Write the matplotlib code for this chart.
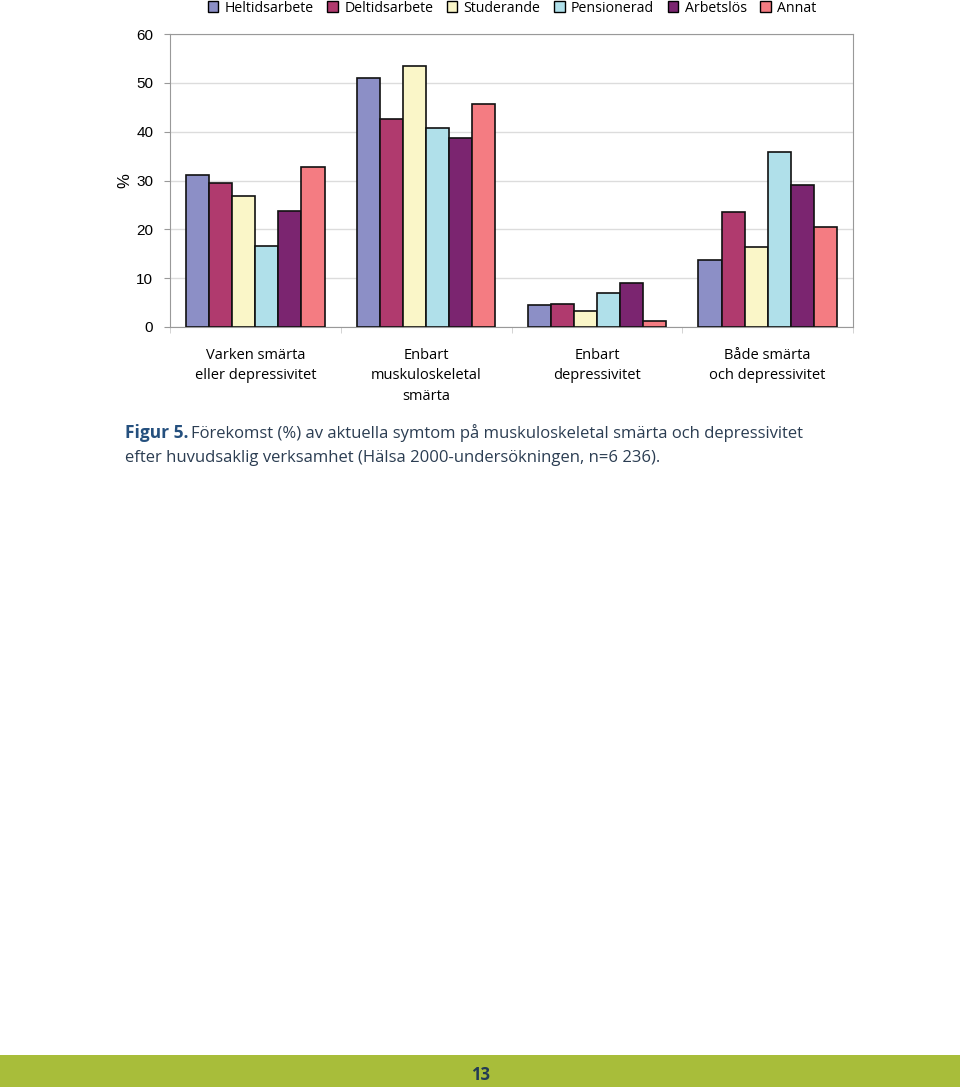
import matplotlib.pyplot as plt
import matplotlib.patches as mpatches
import numpy as np

# data
kategorier = ['Varken smärta\neller depressivitet', 'Enbart\nmuskuloskeletal\nsmärta',
              'Enbart\ndepressivitet', 'Både smärta\noch depressivitet']
grupper = ['Heltidsarbete', 'Deltidsarbete', 'Studerande', 'Pensionerad', 'Arbetslös', 'Annat']
heltid = [31.1, 51.0, 4.5, 13.7]
deltid = [29.5, 42.6, 4.7, 23.6]
studerande = [26.8, 53.5, 3.3, 16.4]
pension = [16.6, 40.8, 7.0, 35.9]
arbetslos = [23.8, 38.7, 9.0, 29.1]
annat = [32.8, 45.7, 1.2, 20.5]
serier = [heltid, deltid, studerande, pension, arbetslos, annat]
farger = ['#8c8fc6', '#b03a6e', '#faf6c8', '#b0e0ea', '#7b2570', '#f47c82']
yticks = [0, 10, 20, 30, 40, 50, 60]

txtfont = ['Open Sans', 'DejaVu Sans']

fig = plt.figure(figsize=(9.6, 10.87), dpi=100)
ax = fig.add_axes([170/960, 1 - 327/1087, 683/960, 293/1087])

x = np.arange(len(kategorier))
w = 0.135
for i, (s, c) in enumerate(zip(serier, farger)):
    ax.bar(x + (i - 2.5) * w, s, width=w, color=c, edgecolor='#111111', linewidth=1.2,
           label=grupper[i], zorder=3)

ax.set_xlim(-0.5, 3.5)
ax.set_ylim(0, 60)
ax.set_yticks(yticks)
ax.set_yticklabels([str(t) for t in yticks], fontsize=11, family='Liberation Sans')
ax.yaxis.grid(True, color='#dcdcdc', linewidth=1, zorder=0)
ax.tick_params(axis='y', length=4, color='#999999', pad=8)
for sp in ax.spines.values():
    sp.set_color('#999999')
ax.set_xticks(x)
ax.set_xticklabels(kategorier, fontsize=10.5, family=txtfont, linespacing=1.5)
ax.tick_params(axis='x', length=0, pad=15)
ax.set_xticks([-0.5, 0.5, 1.5, 2.5, 3.5], minor=True)
ax.tick_params(axis='x', which='minor', length=4, color='#cccccc')
ax.set_ylabel('%', fontsize=12, family='Liberation Sans', labelpad=3)

# legend along the top
handles = [mpatches.Patch(facecolor=c, edgecolor='black', linewidth=1) for c in farger]
fig.legend(handles, grupper, loc='center', bbox_to_anchor=(512/960, 1 - 8/1087), ncol=6,
           frameon=False, prop={'family': txtfont, 'size': 10.2}, handlelength=0.75,
           handleheight=0.75, handletextpad=0.45, columnspacing=0.95)

# caption
fig.text(125/960, 1 - 433/1087, 'Figur 5.', fontsize=12.5, fontweight='bold',
         color='#25507e', family=txtfont, va='center')
fig.text(191/960, 1 - 433/1087, 'Förekomst (%) av aktuella symtom på muskuloskeletal smärta och depressivitet',
         fontsize=12, color='#2b3d52', family=txtfont, va='center')
fig.text(125/960, 1 - 458/1087, 'efter huvudsaklig verksamhet (Hälsa 2000-undersökningen, n=6 236).',
         fontsize=12, color='#2b3d52', family=txtfont, va='center')

# green footer band with page number
fig.patches.append(mpatches.Rectangle((0, 0), 1, 32/1087, transform=fig.transFigure,
                                      facecolor='#a8bd3a', edgecolor='none'))
fig.text(481/960, 1 - 1075/1087, '13', fontsize=12, fontweight='bold', color='#223a55',
         family=txtfont, ha='center', va='center')

fig.savefig('out.png', dpi=100)
